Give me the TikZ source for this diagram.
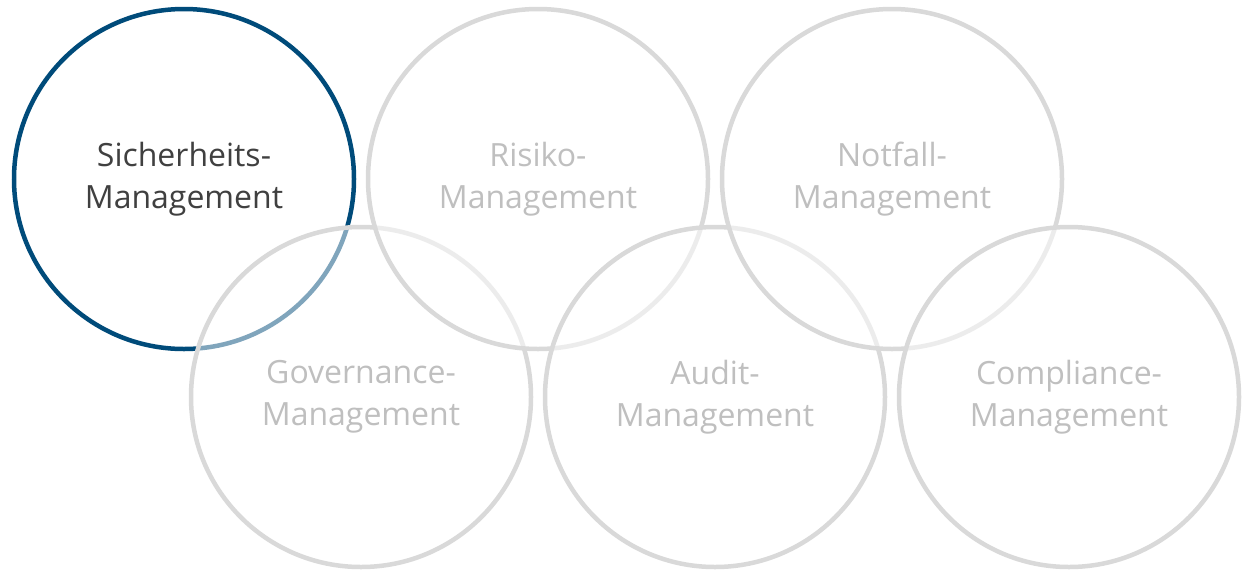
\documentclass[tikz,border=0pt]{standalone}
\usepackage{fontspec}
\setmainfont{Open Sans}
\definecolor{secblue}{RGB}{0,75,122}
\definecolor{ringgray}{RGB}{217,217,217}
\definecolor{darktext}{RGB}{64,64,64}
\definecolor{lighttext}{RGB}{191,191,191}
\tikzset{
  ring/.style={circle, minimum size=340pt, line width=4.5pt, draw=ringgray,
    fill=white, fill opacity=0.5, text opacity=1, text=lighttext,
    align=center, font=\fontsize{32}{42}\selectfont},
  activering/.style={ring, draw=secblue, text=darktext}
}
\begin{document}
\begin{tikzpicture}[x=1pt,y=-1pt]

\useasboundingbox (0,0) rectangle (1247,571);

% rings in zig-zag order, each one lies over the one before
\node[activering] (sich) at (184,179) {Sicherheits-\\Management};
\node[ring] (gov) at (361,397) {Governance-\\Management};
\node[ring] (risk) at (538,179) {Risiko-\\Management};
\node[ring] (audit) at (715,397) {Audit-\\Management};
\node[ring] (notf) at (892,179) {Notfall-\\Management};
\node[ring] (comp) at (1069,397) {Compliance-\\Management};

\end{tikzpicture}
\end{document}
